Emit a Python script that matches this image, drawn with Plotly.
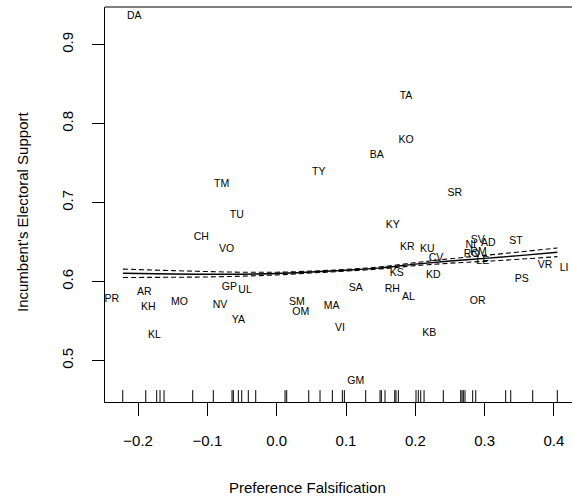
import plotly.graph_objects as go

# ---- data ----
labels = ["DA", "TA", "KO", "BA", "TY", "TM", "SR", "TU", "KY", "CH", "VO",
          "KR", "KU", "SV", "NI", "AD", "ST", "RO", "RM", "CV", "LE", "KS",
          "KD", "VR", "LI", "PS", "GP", "UL", "PR", "AR", "KH", "MO", "NV",
          "YA", "KL", "SM", "OM", "MA", "SA", "RH", "AL", "OR", "VI", "KB", "GM"]
label_x = [-0.2055, 0.1866, 0.1866, 0.1443, 0.0606, -0.0794, 0.2569, -0.0577, 0.1674, -0.1088, -0.0722,
           0.1885, 0.2173, 0.2900, 0.2799, 0.3053, 0.3453, 0.2811, 0.2912, 0.2299, 0.2973, 0.1732,
           0.2260, 0.3872, 0.4146, 0.3535, -0.0684, -0.0457, -0.2381, -0.1911, -0.1853, -0.1405, -0.0818,
           -0.0554, -0.1766, 0.0289, 0.0346, 0.0794, 0.1140, 0.1668, 0.1899, 0.2900, 0.0913, 0.2202, 0.1140]
label_y = [0.9354, 0.8351, 0.7794, 0.7595, 0.7382, 0.7237, 0.7119, 0.6835, 0.6718, 0.6566, 0.6410,
           0.6435, 0.6413, 0.6528, 0.6456, 0.6481, 0.6515, 0.6344, 0.6376, 0.6296, 0.6253, 0.6106,
           0.6076, 0.6211, 0.6170, 0.6030, 0.5929, 0.5886, 0.5777, 0.5870, 0.5676, 0.5739, 0.5701,
           0.5515, 0.5316, 0.5743, 0.5613, 0.5686, 0.5916, 0.5904, 0.5803, 0.5756, 0.5410, 0.5347, 0.4734]

fit_x = [-0.222, -0.15, -0.10, -0.05, 0.0, 0.05, 0.10, 0.15, 0.20, 0.25, 0.30, 0.35, 0.405]
fit_y = [0.6106, 0.6098, 0.6094, 0.6095, 0.6103, 0.6122, 0.6145, 0.6175, 0.6222, 0.6262, 0.6295, 0.6330, 0.6372]
upper = [0.6159, 0.6140, 0.6128, 0.6120, 0.6120, 0.6134, 0.6156, 0.6188, 0.6241, 0.6290, 0.6333, 0.6376, 0.6427]
lower = [0.6053, 0.6056, 0.6060, 0.6070, 0.6086, 0.6110, 0.6134, 0.6162, 0.6203, 0.6234, 0.6257, 0.6284, 0.6317]

rug_x = [-0.2222, -0.1890, -0.1732, -0.1684, -0.1626, -0.1212, -0.0915, -0.0645, -0.0626, -0.0554,
         -0.0505, -0.0410, -0.0303, 0.0120, 0.0144, 0.0462, 0.0625, 0.0803, 0.0947, 0.0976, 0.1284,
         0.1491, 0.1510, 0.1563, 0.1703, 0.1721, 0.1755, 0.2010, 0.2043, 0.2078, 0.2126, 0.2404,
         0.2655, 0.2674, 0.2693, 0.2717, 0.2828, 0.2872, 0.3304, 0.3377, 0.3694, 0.4049]

x_ticks = [-0.2, -0.1, 0.0, 0.1, 0.2, 0.3, 0.4]
y_ticks = [0.5, 0.6, 0.7, 0.8, 0.9]

XRANGE = [-0.2478, 0.4261]
YRANGE = [0.4477, 0.9477]

FONT = "Liberation Sans, Arial, Helvetica, sans-serif"

fig = go.Figure()

# rug
ry0 = YRANGE[0]
ry1 = YRANGE[0] + 0.03 * (YRANGE[1] - YRANGE[0])
rx, ry = [], []
for v in rug_x:
    rx += [v, v, None]
    ry += [ry0, ry1, None]
fig.add_trace(go.Scatter(x=rx, y=ry, mode="lines", line=dict(color="black", width=1),
                         hoverinfo="skip", showlegend=False))

# confidence bands
for band in (upper, lower):
    fig.add_trace(go.Scatter(x=fit_x, y=band, mode="lines",
                             line=dict(color="black", width=1.1, dash="5px,3px", shape="spline"),
                             showlegend=False))
# fitted curve
fig.add_trace(go.Scatter(x=fit_x, y=fit_y, mode="lines",
                         line=dict(color="black", width=1.4, shape="spline"), showlegend=False))

# labels
fig.add_trace(go.Scatter(x=label_x, y=label_y, mode="text", text=labels,
                         textposition="middle center",
                         textfont=dict(family=FONT, size=10.5, color="black"),
                         showlegend=False, cliponaxis=True))

fig.update_layout(
    width=572, height=504,
    margin=dict(l=105, r=0, t=7, b=102),
    paper_bgcolor="white", plot_bgcolor="white",
    font=dict(family=FONT, size=15, color="black"),
    showlegend=False,
    xaxis=dict(range=XRANGE, tickvals=x_ticks,
               ticktext=[("\u2212" + f"{abs(v):.1f}") if v < 0 else f"{v:.1f}" for v in x_ticks],
               ticks="outside", ticklen=13, tickwidth=1, tickcolor="black",
               showline=True, linecolor="black", linewidth=1,
               showgrid=False, zeroline=False, ticklabelstandoff=12,
               tickfont=dict(size=15, color="black")),
    yaxis=dict(range=YRANGE, tickvals=y_ticks, ticktext=[f"{v:.1f}" for v in y_ticks],
               ticks="outside", ticklen=12, tickwidth=1, tickcolor="black",
               showline=True, linecolor="black", linewidth=1,
               showgrid=False, zeroline=False, tickangle=-90, ticklabelstandoff=13,
               tickfont=dict(size=15, color="black")),
    shapes=[dict(type="line", xref="paper", yref="paper", x0=0, x1=1, y0=1, y1=1,
                 line=dict(color="black", width=1))],
    annotations=[
        dict(text="Preference Falsification", xref="paper", yref="paper",
             x=(307 - 105) / 467, y=-(487 - 402) / 395, showarrow=False,
             xanchor="center", yanchor="middle", font=dict(size=15)),
        dict(text="Incumbent's Electoral Support", xref="paper", yref="paper",
             x=-(105 - 22) / 467, y=(402 - 212) / 395, showarrow=False, textangle=-90,
             xanchor="center", yanchor="middle", font=dict(size=15)),
    ],
)

fig.write_html("out.html")
